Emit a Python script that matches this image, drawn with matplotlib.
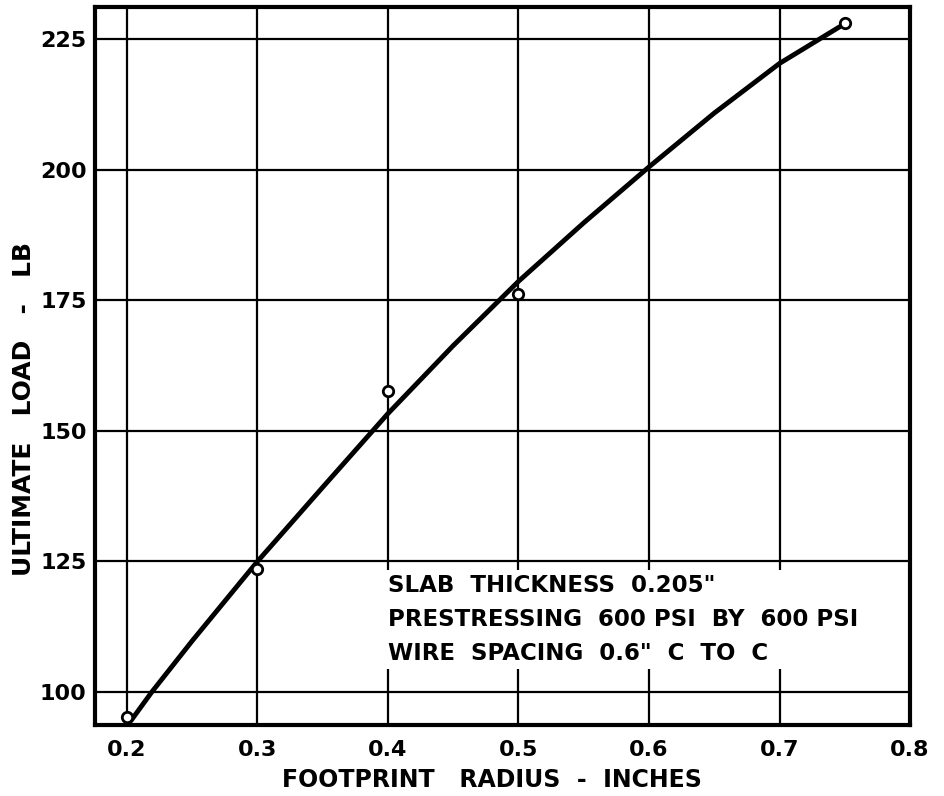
import numpy as np
import matplotlib.pyplot as plt

# measured points (open circles)
radius = [0.2, 0.3, 0.4, 0.5, 0.75]
load = [95.2, 123.5, 157.7, 176.1, 228.1]

# hand-faired curve
curve_x = [0.203, 0.219, 0.25, 0.30, 0.35, 0.40, 0.45, 0.50,
           0.55, 0.60, 0.65, 0.70, 0.746]
curve_y = [94.5, 100.0, 109.8, 125.0, 139.2, 153.3, 166.3, 178.6,
           189.8, 200.5, 210.8, 220.3, 227.3]

xticks = [0.2, 0.3, 0.4, 0.5, 0.6, 0.7, 0.8]
xticklabels = ['0.2', '0.3', '0.4', '0.5', '0.6', '0.7', '0.8']
yticks = [100, 125, 150, 175, 200, 225]

note = ['SLAB  THICKNESS  0.205"',
        'PRESTRESSING  600 PSI  BY  600 PSI',
        'WIRE  SPACING  0.6"  C  TO  C']

plt.rcParams['font.family'] = 'DejaVu Sans'
plt.rcParams['font.weight'] = 'bold'

fig = plt.figure(figsize=(9.44, 7.96), dpi=100)
ax = fig.add_axes([0.1006, 0.0892, 0.8634, 0.902])

ax.plot(curve_x, curve_y, color='black', linewidth=3.5,
        solid_capstyle='round', solid_joinstyle='round', zorder=3)
ax.plot(radius, load, linestyle='none', marker='o', markersize=7.5,
        markerfacecolor='white', markeredgecolor='black', markeredgewidth=2, zorder=4)

ax.set_xlim(0.1755, 0.8)
ax.set_ylim(93.7, 231.1)
ax.set_xticks(xticks)
ax.set_xticklabels(xticklabels)
ax.set_yticks(yticks)
ax.grid(True, color='black', linewidth=1.6)
ax.set_axisbelow(True)
ax.tick_params(axis='y', length=0, labelsize=16, pad=6)
ax.tick_params(axis='x', length=0, labelsize=16, pad=11)
for lab in ax.get_xticklabels() + ax.get_yticklabels():
    lab.set_fontweight('bold')
for s in ax.spines.values():
    s.set_linewidth(3)

ax.set_xlabel('FOOTPRINT   RADIUS  -  INCHES', fontsize=17, fontweight='bold')
ax.xaxis.set_label_coords(0.487, -0.060)
ax.set_ylabel('ULTIMATE   LOAD   -   LB', fontsize=18, fontweight='bold')
ax.yaxis.set_label_coords(-0.072, 0.44)

ax.text(0.40, 122.6, '\n'.join(note), fontsize=16.5, fontweight='bold',
        va='top', ha='left', linespacing=1.6,
        transform=ax.transData,
        bbox=dict(facecolor='white', edgecolor='none', pad=3), zorder=2)

fig.savefig('out.png', dpi=100)
